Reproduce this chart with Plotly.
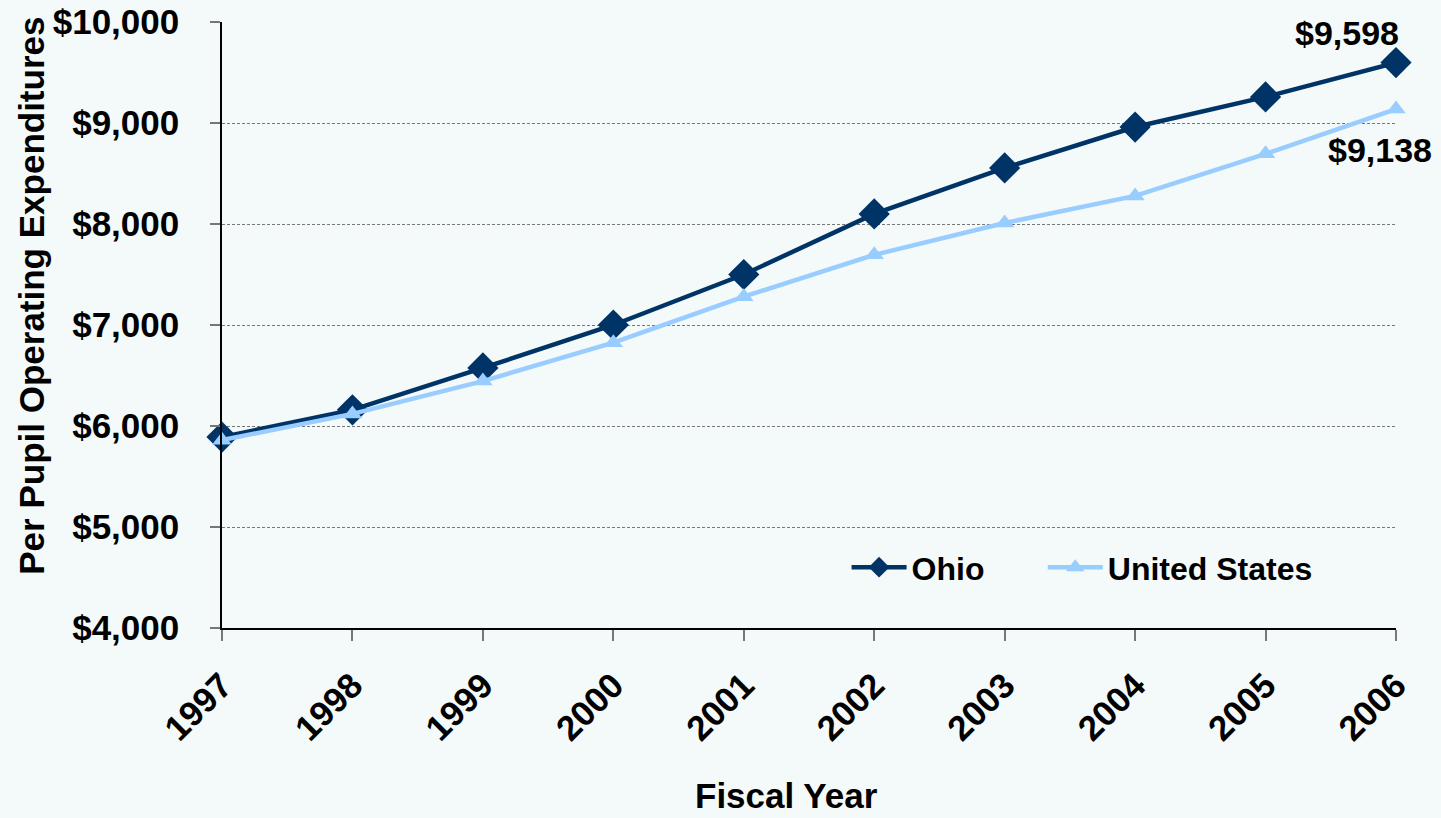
import plotly.graph_objects as go

years = [1997, 1998, 1999, 2000, 2001, 2002, 2003, 2004, 2005, 2006]
ohio = [5890, 6160, 6575, 7000, 7500, 8100, 8555, 8960, 9258, 9598]
united_states = [5860, 6120, 6445, 6825, 7280, 7695, 8010, 8278, 8695, 9138]
y_ticks = [4000, 5000, 6000, 7000, 8000, 9000, 10000]
y_tick_text = ["$4,000", "$5,000", "$6,000", "$7,000", "$8,000", "$9,000", "$10,000"]

FONT = "Liberation Sans, Arial, sans-serif"
BG = "#F4F9F9"
OHIO_COLOR = "#003366"
US_COLOR = "#99CCFF"
NBSP = "\u00a0"

fig = go.Figure()
fig.add_trace(go.Scatter(
    x=years, y=ohio, name="<b>Ohio</b>" + NBSP * 6, mode="lines+markers",
    line=dict(color=OHIO_COLOR, width=4.5),
    marker=dict(symbol="diamond", size=24, color=OHIO_COLOR),
    cliponaxis=False,
))
fig.add_trace(go.Scatter(
    x=years, y=united_states, name="<b>United States</b>", mode="lines+markers",
    line=dict(color=US_COLOR, width=4.5),
    marker=dict(symbol="triangle-up", size=17, color=US_COLOR),
    cliponaxis=False,
))

# End-point value labels
fig.add_annotation(x=years[-1], y=ohio[-1], text=f"<b>${ohio[-1]:,}</b>",
                   showarrow=False, xanchor="center", yanchor="middle",
                   xshift=-49, yshift=30, font=dict(family=FONT, size=34, color="black"))
fig.add_annotation(x=years[-1], y=united_states[-1], text=f"<b>${united_states[-1]:,}</b>",
                   showarrow=False, xanchor="center", yanchor="middle",
                   xshift=-16, yshift=-41, font=dict(family=FONT, size=34, color="black"))

# Axis titles
fig.add_annotation(xref="paper", yref="paper", x=-0.162, y=0.548,
                   text="<b>Per Pupil Operating Expenditures</b>", textangle=-90,
                   showarrow=False, xanchor="center", yanchor="middle",
                   font=dict(family=FONT, size=35, color="black"))
fig.add_annotation(xref="paper", yref="paper", x=0.481, y=-0.3115,
                   text="<b>Fiscal Year</b>", showarrow=False,
                   xanchor="center", yanchor="bottom",
                   font=dict(family=FONT, size=35, color="black"))

fig.update_layout(
    width=1441, height=818,
    margin=dict(l=222, r=45, t=22, b=190, autoexpand=False),
    paper_bgcolor=BG, plot_bgcolor=BG,
    font=dict(family=FONT, color="black"),
    showlegend=True,
    legend=dict(orientation="h", x=0.532, y=0.1, xanchor="left", yanchor="middle",
                bgcolor="rgba(0,0,0,0)", font=dict(family=FONT, size=32, color="black"),
                itemwidth=55, tracegroupgap=0),
    xaxis=dict(
        range=[1997, 2006], tickvals=years, ticktext=[f"<b>{y}</b>" for y in years],
        tickangle=-45, tickfont=dict(family=FONT, size=35, color="black"),
        showgrid=False, zeroline=False, automargin=False,
        showline=True, linecolor="black", linewidth=1.5,
        ticks="outside", ticklen=11, tickcolor="#777777", tickwidth=1.5,
        ticklabelstandoff=10,
    ),
    yaxis=dict(
        range=[4000, 10000], tickvals=y_ticks, ticktext=[f"<b>{t}</b>" for t in y_tick_text],
        tickfont=dict(family=FONT, size=35, color="black"),
        showgrid=True, gridcolor="#777777", griddash="3px,2px", gridwidth=1,
        zeroline=False, automargin=False,
        showline=True, linecolor="black", linewidth=1.5,
        ticks="outside", ticklen=10, tickcolor="#777777", tickwidth=1.5,
        ticklabelstandoff=24,
    ),
)

fig.write_html("out.html")
